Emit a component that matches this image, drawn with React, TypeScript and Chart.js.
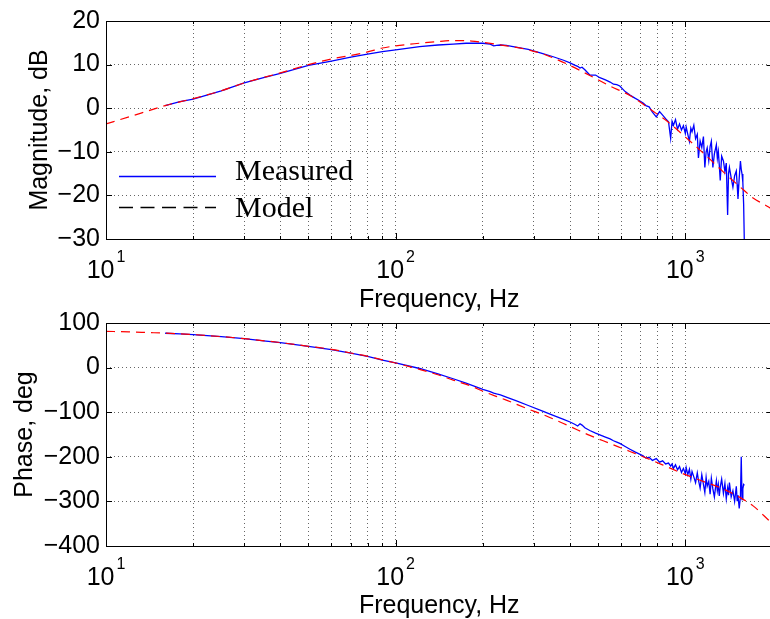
import React, { useEffect, useRef } from "react";
import { Chart, registerables } from "chart.js";

Chart.register(...registerables);

// ---------- data ----------
const measuredFreq = [
  16, 18, 20, 25, 30, 35, 40, 50, 60, 70,
  80, 90, 100, 121, 140, 158, 175, 200, 212, 218,
  223, 230, 241, 260, 287, 320, 350, 380, 400, 415,
  425, 433, 440, 450, 468, 490, 507, 530, 550, 565,
  580, 594, 620, 644, 670, 695, 715, 731, 750, 770,
  794, 815, 835, 855, 875, 890, 900, 910, 925, 940,
  955, 970, 985, 1000, 1007, 1020, 1033, 1045, 1055, 1070,
  1085, 1100, 1110, 1125, 1140, 1155, 1168, 1180, 1190, 1205,
  1218, 1230, 1245, 1260, 1280, 1290, 1300, 1310, 1320, 1335,
  1354, 1370, 1385, 1400, 1410, 1420, 1440, 1460, 1480, 1500,
  1510, 1520, 1535, 1550, 1560, 1570, 1580, 1590, 1600,
];

const measuredMag = [
  0.6, 1.5, 2.1, 4.0, 5.8, 7.0, 8.0, 9.8, 10.8, 11.7,
  12.4, 13.0, 13.4, 14.1, 14.5, 14.7, 14.9, 14.9, 14.7, 14.3,
  14.4, 14.5, 14.4, 14.0, 13.5, 12.6, 11.8, 11.0, 10.4, 9.9,
  9.6, 9.2, 9.4, 8.8, 7.6, 7.6, 7.0, 6.5, 6.0, 5.5,
  5.4, 5.1, 3.8, 3.0, 2.3, 1.7, 1.2, 0.6, 0.3, -0.9,
  -2.0, -0.8, -1.6, -2.4, -3.1, -6.9, -3.0, -3.9, -2.6, -4.8,
  -3.6, -5.0, -4.0, -5.8, -4.3, -6.0, -7.6, -4.6, -5.4, -3.9,
  -7.0, -6.0, -11.4, -7.5, -9.0, -6.5, -13.6, -10.0, -9.1, -12.0,
  -8.8, -7.6, -13.6, -10.5, -8.4, -11.5, -9.9, -13.0, -16.6, -11.0,
  -12.1, -14.5, -12.6, -24.5, -15.0, -13.6, -16.0, -18.1, -15.5, -14.4,
  -17.5, -20.8, -16.0, -12.1, -14.0, -15.1, -17.0, -22.0, -32.0,
];

const measuredPhase = [
  77, 75.5, 74, 69.5, 65, 60, 56, 47.5, 40.5, 32.5,
  25, 17, 10.5, -2, -14, -25, -35, -49, -54, -57,
  -59, -61, -66, -74, -85, -97, -107, -116, -122, -127,
  -131, -126, -129, -135, -141, -147, -151, -156, -160, -164,
  -167, -170, -177, -183, -189, -194, -198, -203, -201, -208,
  -204, -212, -209, -216, -214, -221, -216, -226, -218, -229,
  -222, -235, -226, -238, -224, -240, -228, -250, -233, -245,
  -258, -236, -252, -270, -240, -262, -280, -246, -266, -255,
  -284, -248, -272, -290, -254, -276, -262, -288, -268, -250,
  -282, -260, -294, -270, -286, -258, -290, -276, -300, -266,
  -298, -286, -316, -290, -200, -296, -272, -262, -264,
];

const modelFreq = [
  10, 12, 14, 16, 20, 25, 30, 40, 50, 60,
  70, 80, 90, 100, 121, 140, 158, 183, 200, 241,
  287, 330, 400, 468, 549, 644, 774, 862, 1000, 1185,
  1352, 1543, 1714, 1932, 2000,
];

const modelMag = [
  -3.6, -2.0, -0.6, 0.6, 2.2, 4.0, 5.8, 8.1, 10.0, 11.3,
  12.1, 12.9, 13.8, 14.3, 14.9, 15.3, 15.5, 15.4, 15.1, 14.3,
  13.4, 12.2, 9.8, 7.5, 5.1, 2.9, -0.7, -2.9, -6.6, -11.0,
  -14.6, -18.0, -20.6, -22.6, -23.3,
];

const modelPhase = [
  81.4, 80.0, 78.5, 77.2, 74, 69.5, 65, 56, 47.8, 41,
  32.7, 25.3, 17.5, 10.3, -4, -16, -28, -42, -53, -73,
  -93, -108, -132, -152, -170, -188, -209, -222, -240, -258,
  -272, -291, -310, -341, -350,
];

const seriesLabels = ["Measured", "Model"];
const xGridValues = [10, 20, 30, 40, 50, 60, 70, 80, 90, 100, 200, 300, 400, 500, 600, 700, 800, 900, 1000, 2000];
const xMajorValues = [10, 100, 1000];
const xMajorExponents = ["1", "2", "3"];
const xAxisTitle = "Frequency, Hz";
const magAxis = { min: -30, max: 20, step: 10, title: "Magnitude, dB" };
const phaseAxis = { min: -400, max: 100, step: 100, title: "Phase, deg" };

// ---------- styles ----------
const SANS = "'Liberation Sans', Arial, Helvetica, sans-serif";
const SERIF = "'Liberation Serif', 'Times New Roman', serif";
const FONT_SIZE = 25;
const CANVAS_W = 776;

function minusFmt(v: number | string) {
  const n = Number(v);
  return n < 0 ? "\u2212" + Math.abs(n) : String(n);
}

function makePlugin(id: string, showLegend: boolean) {
  return {
    id,
    afterDraw(chart: any) {
      const { ctx, chartArea: a, scales } = chart;
      const xs = scales.x;
      const ys = scales.y;
      ctx.save();
      ctx.strokeStyle = "#000";
      ctx.lineWidth = 1;
      ctx.setLineDash([]);
      // inward tick marks
      ctx.beginPath();
      for (const v of xGridValues) {
        const px = Math.round(xs.getPixelForValue(v)) + 0.5;
        const len = xMajorValues.includes(v) ? 6 : 3;
        ctx.moveTo(px, a.bottom);
        ctx.lineTo(px, a.bottom - len);
        ctx.moveTo(px, a.top);
        ctx.lineTo(px, a.top + len);
      }
      for (const t of ys.ticks) {
        const py = Math.round(ys.getPixelForValue(t.value)) + 0.5;
        ctx.moveTo(a.left, py);
        ctx.lineTo(a.left + 6, py);
        ctx.moveTo(a.right, py);
        ctx.lineTo(a.right - 6, py);
      }
      ctx.stroke();
      // box
      ctx.strokeRect(
        Math.round(a.left) + 0.5,
        Math.round(a.top) + 0.5,
        Math.round(a.right - a.left),
        Math.round(a.bottom - a.top)
      );
      // x tick labels with exponents
      ctx.fillStyle = "#000";
      ctx.textBaseline = "alphabetic";
      ctx.textAlign = "left";
      xMajorValues.forEach((v, i) => {
        const px = xs.getPixelForValue(v);
        ctx.font = `${FONT_SIZE}px ${SANS}`;
        const wBase = ctx.measureText("10").width;
        ctx.font = `16px ${SANS}`;
        const wExp = ctx.measureText(xMajorExponents[i]).width;
        const total = wBase + 2 + wExp;
        const x0 = px - total / 2;
        const yBase = a.bottom + 39;
        ctx.font = `${FONT_SIZE}px ${SANS}`;
        ctx.fillText("10", x0, yBase);
        ctx.font = `16px ${SANS}`;
        ctx.fillText(xMajorExponents[i], x0 + wBase + 2, yBase - 16.5);
      });
      // legend
      if (showLegend) {
        const ds = chart.data.datasets;
        const lx0 = a.left + 13;
        const lx1 = a.left + 110;
        const tx = a.left + 129;
        ctx.lineWidth = 1.6;
        ctx.strokeStyle = ds[0].borderColor;
        ctx.setLineDash([]);
        ctx.beginPath();
        ctx.moveTo(lx0, a.top + 155.5);
        ctx.lineTo(lx1, a.top + 155.5);
        ctx.stroke();
        ctx.strokeStyle = "#000";
        ctx.lineWidth = 1.6;
        ctx.setLineDash([14, 7.5]);
        ctx.beginPath();
        ctx.moveTo(lx0, a.top + 186.5);
        ctx.lineTo(lx1, a.top + 186.5);
        ctx.stroke();
        ctx.setLineDash([]);
        ctx.fillStyle = "#000";
        ctx.font = `30px ${SERIF}`;
        ctx.fillText(ds[0].label, tx, a.top + 159);
        ctx.fillText(ds[1].label, tx, a.top + 196.3);
      }
      ctx.restore();
    },
  };
}

function makeConfig(p: {
  id: string;
  axis: { min: number; max: number; step: number; title: string };
  measured: number[];
  model: number[];
  padTop: number;
  xHeight: number;
  xTitlePad: number;
  yTitlePad: number;
  legend: boolean;
}): any {
  return {
    type: "line",
    data: {
      datasets: [
        {
          label: seriesLabels[0],
          data: measuredFreq.map((f, i) => ({ x: f, y: p.measured[i] })),
          borderColor: "#0000ff",
          borderWidth: 1.3,
          pointRadius: 0,
          fill: false,
          tension: 0,
          clip: 0,
          order: 2,
        },
        {
          label: seriesLabels[1],
          data: modelFreq.map((f, i) => ({ x: f, y: p.model[i] })),
          borderColor: "#ff0000",
          borderWidth: 1.2,
          borderDash: [9, 6],
          pointRadius: 0,
          fill: false,
          cubicInterpolationMode: "monotone",
          clip: 0,
          order: 1,
        },
      ],
    },
    options: {
      responsive: false,
      animation: false,
      devicePixelRatio: 1,
      events: [],
      layout: { padding: { top: p.padTop, right: CANVAS_W - 772.5, left: 0, bottom: 0 } },
      plugins: { legend: { display: false }, tooltip: { enabled: false } },
      scales: {
        x: {
          type: "logarithmic",
          min: 10,
          max: 2000,
          afterBuildTicks: (scale: any) => {
            scale.ticks = xGridValues.map((v) => ({ value: v }));
          },
          afterFit: (scale: any) => {
            scale.height = p.xHeight;
          },
          ticks: { display: false, autoSkip: false },
          grid: { color: "rgba(0,0,0,0.6)", lineWidth: 1, drawTicks: false },
          border: { display: false, dash: [1, 3] },
          title: {
            display: true,
            text: xAxisTitle,
            color: "#000",
            font: { family: SANS, size: FONT_SIZE, lineHeight: 1 },
            padding: { top: 0, bottom: p.xTitlePad },
          },
        },
        y: {
          type: "linear",
          min: p.axis.min,
          max: p.axis.max,
          afterFit: (scale: any) => {
            scale.width = 106;
          },
          ticks: {
            stepSize: p.axis.step,
            color: "#000",
            padding: 6,
            font: { family: SANS, size: FONT_SIZE },
            callback: (v: any) => minusFmt(v),
          },
          grid: { color: "rgba(0,0,0,0.6)", lineWidth: 1, drawTicks: false },
          border: { display: false, dash: [1, 3] },
          title: {
            display: true,
            text: p.axis.title,
            color: "#000",
            font: { family: SANS, size: FONT_SIZE, lineHeight: 1 },
            padding: { top: p.yTitlePad, bottom: 0 },
          },
        },
      },
    },
    plugins: [makePlugin(p.id, p.legend)],
  };
}

export default function App() {
  const topRef = useRef<HTMLCanvasElement>(null);
  const botRef = useRef<HTMLCanvasElement>(null);

  useEffect(() => {
    const c1 = new Chart(
      topRef.current as HTMLCanvasElement,
      makeConfig({
        id: "frameTop",
        axis: magAxis,
        measured: measuredMag,
        model: modelMag,
        padTop: 17,
        xHeight: 81,
        xTitlePad: 7.8,
        yTitlePad: 28,
        legend: true,
      })
    );
    const c2 = new Chart(
      botRef.current as HTMLCanvasElement,
      makeConfig({
        id: "frameBottom",
        axis: phaseAxis,
        measured: measuredPhase,
        model: modelPhase,
        padTop: 23,
        xHeight: 73,
        xTitlePad: 0.5,
        yTitlePad: 12.2,
        legend: false,
      })
    );
    return () => {
      c1.destroy();
      c2.destroy();
    };
  }, []);

  return (
    <div
      style={{
        position: "absolute",
        left: 0,
        top: 0,
        width: 770,
        height: 619,
        overflow: "hidden",
        background: "#fff",
      }}
    >
      <canvas
        ref={topRef}
        width={CANVAS_W}
        height={320}
        style={{ position: "absolute", left: 0, top: 0, width: CANVAS_W, height: 320, display: "block" }}
      />
      <canvas
        ref={botRef}
        width={CANVAS_W}
        height={319}
        style={{ position: "absolute", left: 0, top: 300, width: CANVAS_W, height: 319, display: "block" }}
      />
    </div>
  );
}
